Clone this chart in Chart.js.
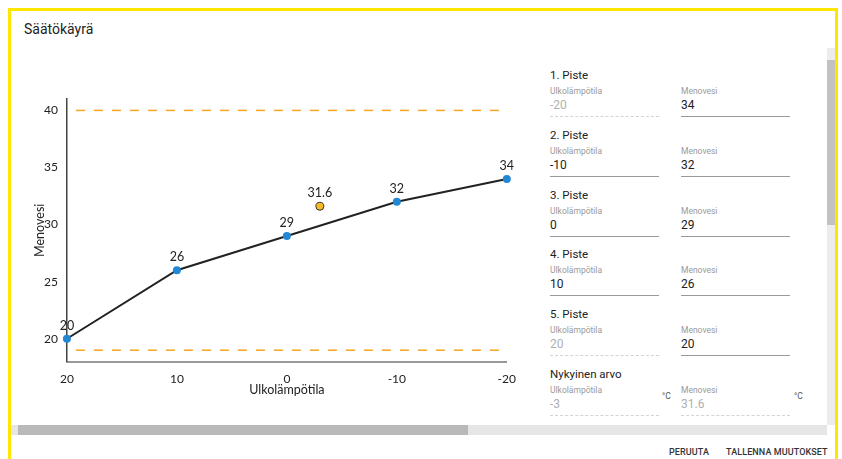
<!DOCTYPE html>
<html>
<head>
<meta charset="utf-8">
<script src="https://cdn.jsdelivr.net/npm/chart.js@4/dist/chart.umd.min.js"></script>
<style>
  html, body { margin: 0; padding: 0; background: #fff; }
  body { width: 842px; height: 459px; overflow: hidden; position: relative; font-family: Roboto, "Noto Sans", sans-serif; }
  .frame { position: absolute; left: 8px; top: 8px; width: 830px; height: 470px; border: 3px solid #ffe600; box-sizing: border-box; }
  .title { position: absolute; left: 24px; top: 21px; font-size: 14px; font-weight: 400; color: #222; }
  #chart-wrap { position: absolute; left: 24px; top: 80px; width: 502px; height: 320px; }
  .form { position: absolute; left: 550px; top: 0; width: 270px; }
  .sec { position: absolute; left: 0; font-size: 11.5px; color: #222; }
  .field { position: absolute; width: 109px; }
  .field .lbl { font-size: 8.5px; color: #9a9a9a; margin-top: 2px; }
  .field .val { font-size: 12px; color: #222; margin-top: 2px; padding-bottom: 4px; border-bottom: 1px solid #9a9a9a; }
  .field.off .val { color: #b0b0b0; border-bottom: 1px dashed #d4d4d4; }
  .unit { position: absolute; font-size: 8.5px; color: #555; }
  .vbar { position: absolute; left: 827px; top: 48px; width: 8px; height: 377px; background: #ececec; }
  .vthumb { position: absolute; left: 0; top: 12px; width: 8px; height: 165px; background: #c2c2c2; }
  .hbar { position: absolute; left: 11px; top: 425px; width: 816px; height: 10px; background: #e6e6e6; }
  .hthumb { position: absolute; left: 7px; top: 0; width: 450px; height: 10px; background: #b9b9b9; }
  .btn { position: absolute; top: 447px; font-size: 9px; font-weight: 500; color: #333; letter-spacing: 0.1px; }
</style>
</head>
<body>
<div class="frame"></div>
<div class="title">Säätökäyrä</div>
<div id="chart-wrap"><canvas id="curve"></canvas></div>
<div class="form" id="form"></div>
<div class="vbar"><div class="vthumb"></div></div>
<div class="hbar"><div class="hthumb"></div></div>
<div class="btn" style="left:669px">PERUUTA</div>
<div class="btn" style="left:726px">TALLENNA MUUTOKSET</div>

<script>
// Curve points (Ulkolämpötila -> Menovesi)
const outdoorTemps = [20, 10, 0, -10, -20];
const flowTemps = [20, 26, 29, 32, 34];
// Current value
const currentOutdoor = [-3];
const currentFlow = [31.6];
// Limits
const limitMax = 40;
const limitMin = 19;
// Ticks
const xTicks = [20, 10, 0, -10, -20];
const yTicks = [20, 25, 30, 35, 40];

const FONT = 'Lato, "DejaVu Sans", sans-serif';

// value labels above points + axis titles (kept tight like the original)
const chartText = {
  id: 'chartText',
  afterDatasetsDraw(chart) {
    const ctx = chart.ctx;
    ctx.save();
    ctx.font = '12.5px ' + FONT;
    ctx.fillStyle = '#222';
    ctx.textAlign = 'center';
    ctx.textBaseline = 'bottom';
    chart.data.datasets.forEach((ds, i) => {
      if (!ds.showValues) return;
      chart.getDatasetMeta(i).data.forEach((pt, j) => {
        ctx.fillText(String(ds.data[j].y), pt.x, pt.y - 7);
      });
    });

    const area = chart.chartArea;
    ctx.textBaseline = 'middle';
    ctx.fillText('Ulkolämpötila', (area.left + area.right) / 2, area.bottom + 28);

    ctx.translate(area.left - 27, (area.top + area.bottom) / 2);
    ctx.rotate(-Math.PI / 2);
    ctx.fillText('Menovesi', 0, 0);
    ctx.restore();
  }
};

function toPoints(xs, ys) {
  return xs.map((x, i) => ({ x: x, y: ys[i] }));
}

const curveData = toPoints(outdoorTemps, flowTemps);
const currentData = toPoints(currentOutdoor, currentFlow);
const maxLine = toPoints([20, -20], [limitMax, limitMax]);
const minLine = toPoints([20, -20], [limitMin, limitMin]);

const dashed = {
  borderColor: '#f5a623',
  borderWidth: 1.5,
  borderDash: [9, 9],
  borderDashOffset: 9,
  pointRadius: 0,
  showLine: true,
  fill: false
};

new Chart(document.getElementById('curve'), {
  type: 'scatter',
  data: {
    datasets: [
      Object.assign({ data: maxLine }, dashed),
      Object.assign({ data: minLine }, dashed),
      {
        data: curveData,
        showLine: true,
        clip: false,
        borderColor: '#222',
        borderWidth: 2,
        pointRadius: 4,
        pointBackgroundColor: '#2288d4',
        pointBorderColor: '#2288d4',
        pointBorderWidth: 0,
        showValues: true
      },
      {
        data: currentData,
        clip: false,
        pointRadius: 4,
        pointBackgroundColor: '#f7b924',
        pointBorderColor: '#333',
        pointBorderWidth: 1,
        showValues: true
      }
    ]
  },
  options: {
    responsive: true,
    maintainAspectRatio: false,
    animation: false,
    layout: { padding: { top: 19, right: 0, left: 11, bottom: 4 } },
    plugins: { legend: { display: false }, tooltip: { enabled: false } },
    scales: {
      x: {
        type: 'linear',
        reverse: true,
        min: -20,
        max: 20,
        grid: { display: false, drawTicks: false },
        border: { display: true, color: '#999', width: 2 },
        afterBuildTicks: (axis) => { axis.ticks = xTicks.map(v => ({ value: v })); },
        ticks: { font: { family: FONT, size: 12 }, color: '#222', padding: 10, maxRotation: 0 }
      },
      y: {
        type: 'linear',
        min: 18,
        max: 41,
        grid: { display: false, drawTicks: false },
        border: { display: true, color: '#444', width: 1.5 },
        afterBuildTicks: (axis) => { axis.ticks = yTicks.map(v => ({ value: v })); },
        ticks: { font: { family: FONT, size: 12 }, color: '#222', padding: 9 }
      }
    }
  },
  plugins: [chartText]
});

// form on the right
const formRows = [
  { name: '1. Piste', outdoor: '-20', flow: '34', outdoorOff: true, flowOff: false },
  { name: '2. Piste', outdoor: '-10', flow: '32', outdoorOff: false, flowOff: false },
  { name: '3. Piste', outdoor: '0', flow: '29', outdoorOff: false, flowOff: false },
  { name: '4. Piste', outdoor: '10', flow: '26', outdoorOff: false, flowOff: false },
  { name: '5. Piste', outdoor: '20', flow: '20', outdoorOff: true, flowOff: false },
  { name: 'Nykyinen arvo', outdoor: '-3', flow: '31.6', outdoorOff: true, flowOff: true, unit: true }
];

const form = document.getElementById('form');
form.innerHTML = formRows.map((r, i) => {
  const top = 68 + i * 59.8;
  return `
    <div class="sec" style="top:${top}px">${r.name}</div>
    <div class="field ${r.outdoorOff ? 'off' : ''}" style="left:0;top:${top + 16}px">
      <div class="lbl">Ulkolämpötila</div><div class="val">${r.outdoor}</div>
    </div>
    <div class="field ${r.flowOff ? 'off' : ''}" style="left:131px;top:${top + 16}px">
      <div class="lbl">Menovesi</div><div class="val">${r.flow}</div>
    </div>
    ${r.unit ? `<div class="unit" style="left:112px;top:${top + 24}px">°C</div><div class="unit" style="left:244px;top:${top + 24}px">°C</div>` : ''}
  `;
}).join('');
</script>
</body>
</html>
